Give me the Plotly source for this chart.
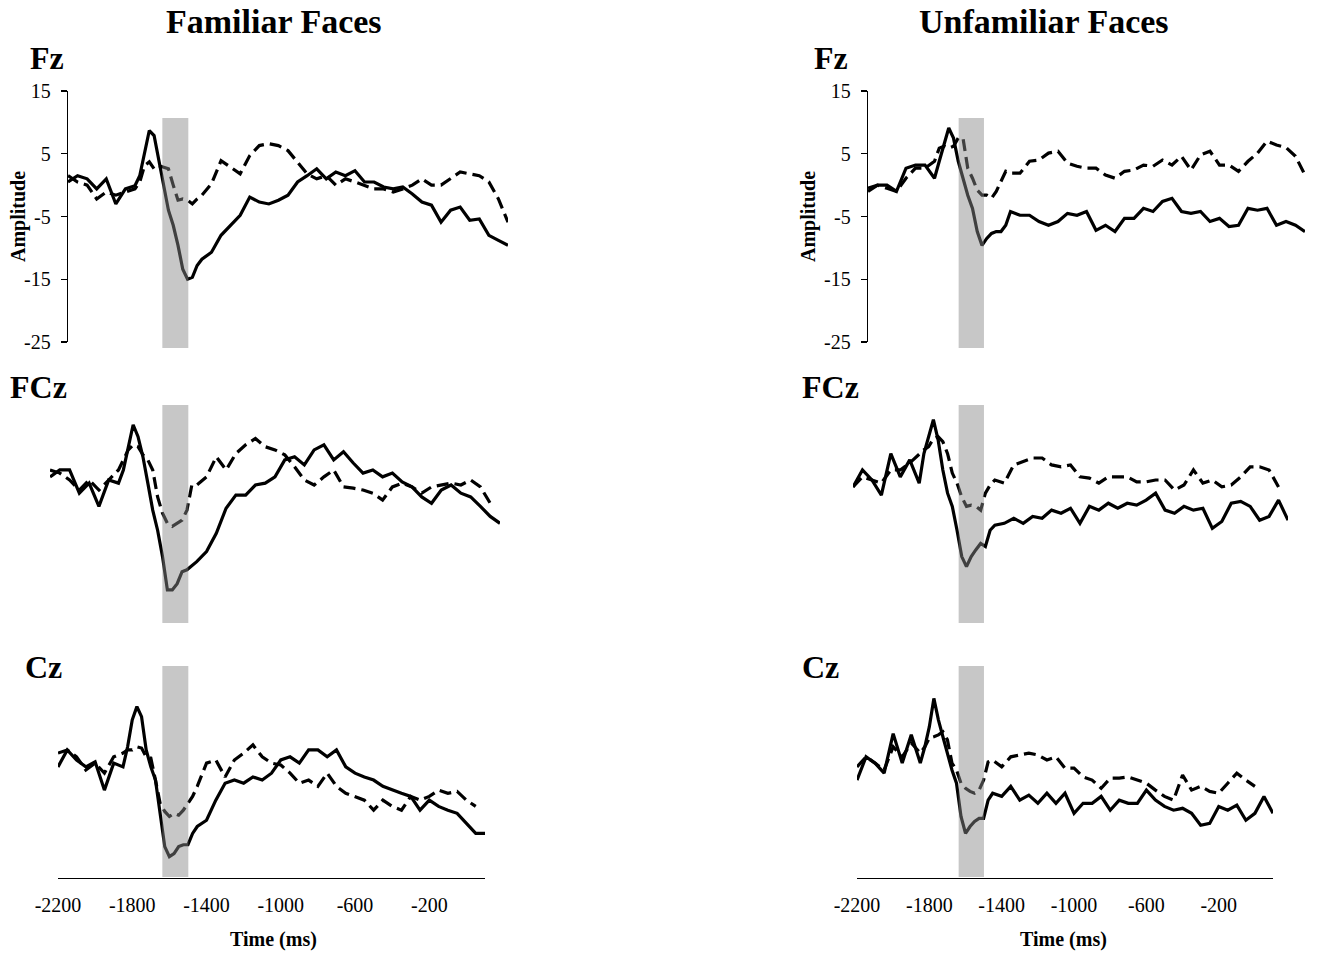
import plotly.graph_objects as go

# ---------------- data ----------------
TIME_MS = [-2200, -2150, -2100, -2050, -2000, -1950, -1900, -1850,
           -1825, -1800, -1775, -1750, -1725, -1700, -1675, -1650,
           -1625, -1600, -1575, -1550, -1525, -1500, -1475, -1450,
           -1400, -1350, -1300, -1250, -1200, -1150, -1100, -1050,
           -1000, -950, -900, -850, -800, -750, -700, -650, -600,
           -550, -500, -450, -400, -350, -300, -250, -200, -150,
           -100, -50, 0, 50, 100]

# Familiar faces
FAM_FZ_SOLID = [0.5, 1.5, 1.0, -0.6, 1.0, -3.0, -0.6, -0.1,
                1.5, 5.3, 8.7, 7.9, 3.7, -0.1, -4.0, -6.4, -9.6, -13.4, -15.0, -14.7, -12.8, -11.8, -11.2, -10.7,
                -8.0, -6.4, -4.8, -1.9, -2.7, -3.0, -2.4, -1.6, 0.5, 1.5, 2.6, 1.0, 2.1, 1.5, 2.3, 0.5,
                0.5, -0.3, -0.6, -0.3, -1.4, -2.7, -3.2, -5.9, -4.0, -3.5, -5.6, -5.4, -8.0, -8.8, -9.6]
FAM_FZ_DASHED = [1.5, 0.5, 0.0, -2.2, -1.1, -1.6, -1.1, -0.6,
                 0.5, 3.1, 3.7, 2.6, 3.1, 2.9, 2.6, 0.0, -2.4, -2.2, -2.4, -3.0, -2.2, -1.6, -0.6, 0.2,
                 3.9, 2.9, 1.8, 4.7, 6.3, 6.6, 6.3, 5.5, 3.7, 1.8, 1.0, 1.5, 0.0, 1.0, 0.5, 0.0,
                 -0.6, -0.6, -1.1, -0.6, 0.0, 1.0, 0.0, 0.0, 1.0, 2.1, 1.8, 1.5, 0.5, -2.2, -5.9]
FAM_FCZ_SOLID = [0.5, 1.6, 1.6, -2.1, -0.5, -4.2, 0.0, -0.5,
                 1.6, 5.3, 8.8, 6.9, 3.7, -0.5, -4.8, -8.0, -12.2, -17.5, -17.5, -16.5, -14.6, -14.3, -13.6, -13.0,
                 -11.4, -8.5, -4.5, -2.4, -2.4, -0.8, -0.5, 0.5, 3.2, 3.7, 2.4, 4.8, 5.6, 3.2, 4.5, 2.7,
                 1.1, 1.6, 0.5, 1.1, -0.3, -1.1, -2.7, -3.7, -1.6, -0.8, -2.1, -2.7, -4.2, -5.8, -6.9]
FAM_FCZ_DASHED = [1.6, 1.1, 0.0, -1.6, 0.0, -1.6, 0.0, 1.6,
                  3.2, 4.8, 5.6, 5.3, 4.0, 3.2, 1.6, -2.7, -5.3, -6.9, -7.4, -6.9, -6.4, -4.8, -0.8, -0.8,
                  0.5, 3.7, 1.6, 4.2, 5.6, 6.6, 5.3, 4.8, 4.0, 2.1, 0.0, -0.8, 0.5, 1.6, -1.1, -1.3,
                  -1.6, -2.1, -3.2, -1.1, -0.5, -1.1, -2.1, -1.1, -0.8, -0.5, -0.8, 0.0, -1.1, -3.7, None]
FAM_CZ_SOLID = [-1.1, 1.6, 0.0, -1.1, -0.3, -4.8, -0.5, -1.1,
                2.1, 6.4, 8.5, 6.9, 1.6, -1.1, -3.2, -9.0, -13.8, -15.4, -14.9, -13.8, -13.5, -13.5, -11.7, -10.6,
                -9.6, -6.4, -3.7, -3.2, -3.7, -2.7, -3.2, -2.1, 0.0, 0.5, -0.5, 1.6, 1.6, 0.5, 1.6, -1.1,
                -2.1, -2.7, -3.2, -4.2, -4.8, -5.3, -5.8, -8.0, -6.4, -7.4, -8.0, -8.5, -10.1, -11.7, -11.7]
FAM_CZ_DASHED = [1.1, 1.6, 0.5, -1.6, -0.5, -2.1, 0.5, 1.1,
                 1.6, 1.6, 2.1, 1.9, 0.5, 0.3, -3.2, -6.9, -8.2, -9.0, -8.5, -8.8, -8.0, -6.9, -5.8, -4.2,
                 -0.5, 0.0, -2.7, 0.0, 1.1, 2.4, 0.5, -0.5, -0.8, -2.1, -3.7, -3.2, -4.2, -2.1, -4.2, -5.3,
                 -5.8, -6.4, -8.0, -6.4, -7.4, -8.0, -5.8, -6.4, -5.8, -4.8, -5.3, -5.0, -6.4, -7.4, None]

# Unfamiliar faces
UNF_FZ_SOLID = [-1.0, 0.0, 0.0, -1.0, 2.7, 3.2, 3.2, 1.1,
                3.8, 6.4, 9.1, 7.5, 3.8, 1.1, -1.6, -3.7, -7.4, -9.6, -8.5, -7.7, -7.4, -7.4, -6.4, -4.2,
                -4.8, -4.8, -5.8, -6.4, -5.8, -4.5, -4.8, -4.2, -7.2, -6.4, -7.4, -5.3, -5.3, -3.7, -4.2, -2.6,
                -2.1, -4.2, -4.5, -4.2, -5.8, -5.3, -6.6, -6.4, -3.7, -4.0, -3.7, -6.4, -5.8, -6.4, -7.4]
UNF_FZ_DASHED = [-0.5, 0.0, -0.5, -1.0, 1.1, 2.7, 2.7, 3.8,
                 5.9, 6.2, 5.9, 6.2, 7.5, 7.5, 2.7, 1.1, -0.8, -1.6, -1.6, -2.1, -1.0, 0.6, 2.2, 1.9,
                 1.9, 3.8, 4.0, 5.1, 5.4, 3.5, 3.0, 2.7, 2.7, 1.6, 1.1, 2.2, 2.4, 3.2, 3.0, 4.0,
                 3.2, 4.6, 2.4, 4.8, 5.4, 3.2, 3.2, 2.2, 3.8, 5.1, 7.0, 6.4, 6.0, 4.6, 1.6]
UNF_FCZ_SOLID = [-1.1, 1.6, 0.0, -2.4, 4.2, 0.5, 3.2, -0.5,
                 4.2, 6.9, 9.6, 6.4, 1.6, -2.1, -4.2, -8.0, -12.2, -13.8, -12.2, -11.1, -10.1, -10.6, -8.0, -7.2,
                 -6.9, -6.1, -6.9, -5.8, -6.1, -4.8, -5.3, -4.5, -6.9, -4.2, -4.8, -3.7, -4.5, -3.7, -4.0, -3.2,
                 -2.1, -4.8, -5.3, -4.2, -4.8, -4.5, -7.7, -6.6, -3.7, -3.4, -4.2, -6.4, -5.8, -3.2, -6.4]
UNF_FCZ_DASHED = [-1.1, 0.5, 0.0, -0.5, 1.6, 1.6, 2.7, 4.2,
                  4.8, 5.3, 6.6, 6.9, 6.1, 4.2, 1.1, -0.5, -2.7, -4.2, -4.0, -4.2, -4.8, -2.1, -0.8, 0.0,
                  -0.5, 2.4, 2.9, 3.5, 3.5, 2.4, 2.1, 2.4, 0.5, 0.3, -0.5, 0.5, 0.5, 0.5, -0.3, -0.3,
                  0.0, 0.0, -1.6, -0.8, 1.6, -0.5, 0.0, -1.1, -0.8, 0.5, 2.1, 2.1, 1.6, -1.1, None]
UNF_CZ_SOLID = [-3.2, 0.5, -0.5, -2.1, 4.2, -0.5, 4.0, -0.5,
                2.1, 5.3, 9.8, 6.4, 3.7, 1.1, -1.6, -3.7, -9.0, -11.7, -10.6, -9.8, -9.3, -9.3, -6.4, -5.3,
                -5.8, -4.2, -6.4, -5.6, -6.9, -5.3, -6.9, -5.3, -8.5, -6.9, -6.9, -5.8, -8.0, -6.4, -6.9, -6.9,
                -4.8, -6.4, -7.4, -8.0, -7.7, -8.5, -10.4, -10.1, -7.4, -8.0, -7.2, -9.6, -8.5, -5.8, -8.5]
UNF_CZ_DASHED = [-1.1, 0.5, -0.5, -1.6, 2.1, 0.5, 2.7, 1.1,
                 2.1, 3.5, 3.7, 4.0, 4.5, 3.2, -0.5, -1.6, -3.7, -4.5, -5.0, -5.3, -4.8, -3.2, -0.3, 0.0,
                 -1.1, 0.5, 0.8, 1.1, 0.8, 0.0, 0.5, -1.3, -1.3, -2.7, -3.2, -4.5, -2.9, -2.9, -2.7, -3.2,
                 -3.7, -4.8, -5.8, -6.4, -2.4, -4.8, -4.2, -5.0, -5.3, -3.7, -2.1, -3.2, -4.2, None, None]

Y_TICKS = [15, 5, -5, -15, -25]
Y_TICK_TEXT = ["15", "5", "-5", "-15", "-25"]
X_TICKS = [-2200, -1800, -1400, -1000, -600, -200]
X_TICK_TEXT = ["-2200", "-1800", "-1400", "-1000", "-600", "-200"]
BAND_WINDOW_MS = [-1638, -1498]

COLUMN_TITLES = ["Familiar Faces", "Unfamiliar Faces"]
ROW_LABELS = ["Fz", "FCz", "Cz"]

# ---------------- layout constants (pixels) ----------------
W, H = 1324, 954
FONT = "Liberation Serif, Times New Roman, serif"


def fx(p):
    return p / W


def fy(p):
    return 1 - p / H


# panel: (axis index, x-domain px, y-domain px (top, bottom), y-range)
PANELS = [
    (1, (68, 508), (91, 342), [-25, 15]),      # Fz familiar
    (2, (868, 1305), (91, 342), [-25, 15]),    # Fz unfamiliar
    (3, (50, 500), (385.8, 637), [-25, 15]),   # FCz familiar
    (4, (853, 1288), (385.8, 637), [-25, 15]),  # FCz unfamiliar
    (5, (58, 485), (665.8, 878), [-18.8, 15]),  # Cz familiar
    (6, (857, 1273), (665.8, 878), [-18.8, 15]),  # Cz unfamiliar
]
SERIES = {
    1: (FAM_FZ_SOLID, FAM_FZ_DASHED),
    2: (UNF_FZ_SOLID, UNF_FZ_DASHED),
    3: (FAM_FCZ_SOLID, FAM_FCZ_DASHED),
    4: (UNF_FCZ_SOLID, UNF_FCZ_DASHED),
    5: (FAM_CZ_SOLID, FAM_CZ_DASHED),
    6: (UNF_CZ_SOLID, UNF_CZ_DASHED),
}
BAND_Y_PX = [(118, 348), (405, 623), (666, 877)]

fig = go.Figure()
layout = dict(
    width=W, height=H,
    margin=dict(l=0, r=0, t=0, b=0, pad=0, autoexpand=False),
    paper_bgcolor="white", plot_bgcolor="white",
    showlegend=False,
    font=dict(family=FONT, color="black", size=19),
)

for idx, xd, yd, yr in PANELS:
    solid, dashed = SERIES[idx]
    xa = "x" if idx == 1 else f"x{idx}"
    ya = "y" if idx == 1 else f"y{idx}"
    fig.add_trace(go.Scatter(x=TIME_MS, y=solid, mode="lines", xaxis=xa, yaxis=ya,
                             line=dict(color="black", width=3.2), name="solid",
                             connectgaps=False, hoverinfo="skip"))
    fig.add_trace(go.Scatter(x=TIME_MS, y=dashed, mode="lines", xaxis=xa, yaxis=ya,
                             line=dict(color="black", width=3.2, dash="12px,6px"), name="dashed",
                             connectgaps=False, hoverinfo="skip"))
    xkey = "xaxis" if idx == 1 else f"xaxis{idx}"
    ykey = "yaxis" if idx == 1 else f"yaxis{idx}"
    is_bottom = idx in (5, 6)
    is_top = idx in (1, 2)
    layout[xkey] = dict(
        domain=[fx(xd[0]), fx(xd[1])], range=[-2200, 100], anchor=ya,
        showgrid=False, zeroline=False, fixedrange=True, automargin=False,
        showline=is_bottom, linecolor="black", linewidth=1.3,
        showticklabels=is_bottom, ticks="",
        tickvals=X_TICKS, ticktext=X_TICK_TEXT,
        tickfont=dict(family=FONT, size=20, color="black"),
        ticklabelstandoff=9,
    )
    layout[ykey] = dict(
        domain=[fy(yd[1]), fy(yd[0])], range=yr, anchor=xa,
        showgrid=False, zeroline=False, fixedrange=True, automargin=False,
        showline=is_top, linecolor="black", linewidth=1.3,
        showticklabels=is_top, ticks="outside" if is_top else "",
        ticklen=6, tickwidth=1.3, tickcolor="black",
        tickvals=Y_TICKS, ticktext=Y_TICK_TEXT,
        tickfont=dict(family=FONT, size=20, color="black"),
        ticklabelstandoff=6,
    )

# shaded analysis window (drawn above the waveforms, semi-transparent)
shapes = []
for (y0, y1) in BAND_Y_PX:
    for xref in ("x5", "x6"):
        shapes.append(dict(type="rect", xref=xref, yref="paper",
                           x0=BAND_WINDOW_MS[0], x1=BAND_WINDOW_MS[1],
                           y0=fy(y1), y1=fy(y0), layer="above",
                           fillcolor="rgba(137,137,137,0.47)", line=dict(width=0)))
layout["shapes"] = shapes

ann = []
# column titles
for title, cx in zip(COLUMN_TITLES, (274, 1044)):
    ann.append(dict(text=f"<b>{title}</b>", x=fx(cx), y=fy(22), xref="paper", yref="paper",
                    xanchor="center", yanchor="middle", showarrow=False,
                    font=dict(family=FONT, size=34, color="black")))
# row labels
ROW_LABEL_POS = [[(28, 58), (8, 387), (23, 667)], [(812, 58), (800, 387), (800, 667)]]
for col in range(2):
    for lab, (lx, ly) in zip(ROW_LABELS, ROW_LABEL_POS[col]):
        ann.append(dict(text=f"<b>{lab}</b>", x=fx(lx), y=fy(ly), xref="paper", yref="paper",
                        xanchor="left", yanchor="middle", showarrow=False,
                        font=dict(family=FONT, size=32, color="black")))
# axis titles
for ax_x in (18, 808):
    ann.append(dict(text="<b>Amplitude</b>", x=fx(ax_x), y=fy(217), xref="paper", yref="paper",
                    xanchor="center", yanchor="middle", textangle=-90, showarrow=False,
                    font=dict(family=FONT, size=20, color="black")))
for tx in (273, 1063):
    ann.append(dict(text="<b>Time (ms)</b>", x=fx(tx), y=fy(939), xref="paper", yref="paper",
                    xanchor="center", yanchor="middle", showarrow=False,
                    font=dict(family=FONT, size=20, color="black")))
layout["annotations"] = ann

fig.update_layout(**layout)
# remove the default page margin so the 1324x954 figure fills the window exactly
fig.write_html("out.html", config={"displayModeBar": False, "staticPlot": True},
               post_script="document.body.style.margin='0';document.body.style.overflow='hidden';")
